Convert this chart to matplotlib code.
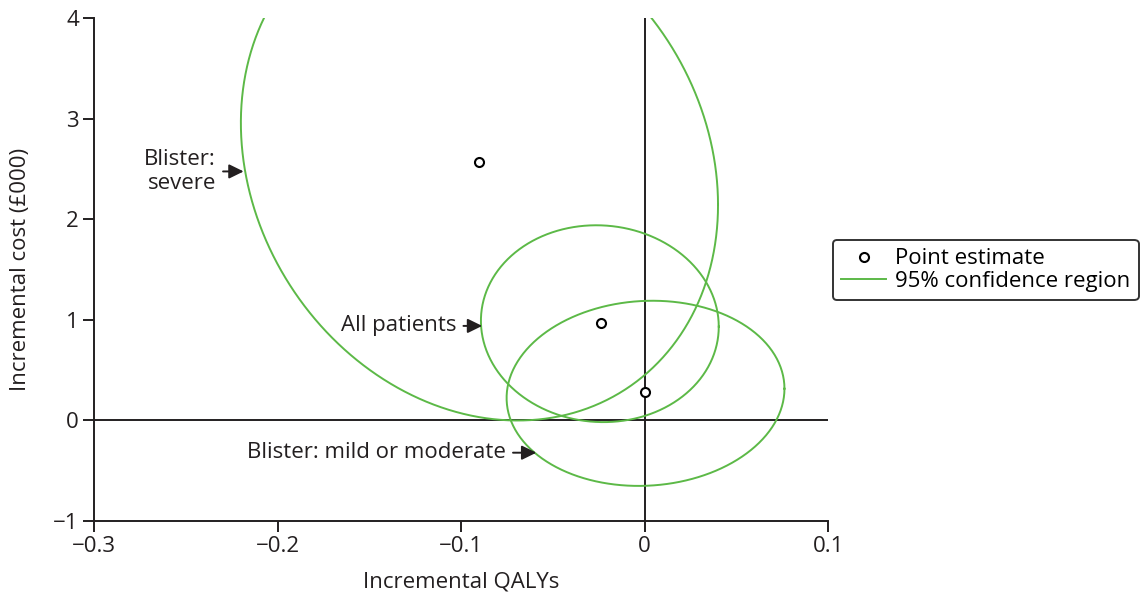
import numpy as np
import matplotlib.pyplot as plt

plt.rcParams['font.family'] = ['Open Sans', 'DejaVu Sans']

# subgroups (point estimates and 95% confidence ellipses)
groups = ['Blister: severe', 'All patients', 'Blister: mild or moderate']
point_qaly = [-0.090, -0.024, 0.0003]
point_cost = [2.57, 0.965, 0.285]
centre_qaly = [-0.090, -0.0244, 0.0005]
centre_cost = [2.55, 0.962, 0.27]
half_qaly = [0.130, 0.0648, 0.0757]
half_cost = [2.55, 0.978, 0.92]
corr = [-0.16, -0.03, 0.05]

# label text, anchor of the text and arrow tip
label_text = ['Blister:\nsevere', 'All patients', 'Blister: mild or moderate']
label_x = [-0.2335, -0.1025, -0.0755]
label_y = [2.475, 0.94, -0.32]
tip_x = [-0.2185, -0.0885, -0.059]

green = '#5cb947'
ink = '#231f20'


def ellipse(cx, cy, a, b, r, n=400):
    t = np.linspace(0, 2 * np.pi, n)
    d = np.arccos(r)
    return cx + a * np.cos(t), cy + b * np.cos(t - d)


fig = plt.figure(figsize=(11.47, 5.99), dpi=100)
ax = fig.add_axes([0.082, 0.130, 0.640, 0.840])

for i in range(len(groups)):
    ex, ey = ellipse(centre_qaly[i], centre_cost[i], half_qaly[i], half_cost[i], corr[i])
    ax.plot(ex, ey, color=green, lw=1.4, label='95% confidence region' if i == 0 else None)

ax.plot(point_qaly, point_cost, 'o', mfc='white', mec='black', mew=1.5, ms=6.5,
        label='Point estimate', zorder=5)

ax.axhline(0, color=ink, lw=1.4, zorder=1)
ax.axvline(0, color=ink, lw=1.4, zorder=1)

for i in range(len(label_text)):
    ax.annotate(label_text[i], xy=(tip_x[i], label_y[i]), xytext=(label_x[i], label_y[i]),
                ha='right', va='center', fontsize=16, color=ink,
                arrowprops=dict(arrowstyle='-|>,head_length=0.55,head_width=0.27',
                                color=ink, lw=1.4, shrinkA=3, shrinkB=0))

ax.set_xlim(-0.3, 0.1)
ax.set_ylim(-1, 4)
ax.set_xticks([-0.3, -0.2, -0.1, 0, 0.1])
ax.set_xticklabels(['\u22120.3', '\u22120.2', '\u22120.1', '0', '0.1'])
ax.set_yticks([-1, 0, 1, 2, 3, 4])
ax.set_yticklabels(['\u22121', '0', '1', '2', '3', '4'])
ax.spines['top'].set_visible(False)
ax.spines['right'].set_visible(False)
for s in ['left', 'bottom']:
    ax.spines[s].set_linewidth(1.4)
    ax.spines[s].set_color(ink)
ax.tick_params(direction='out', length=8, width=1.4, labelsize=16, colors=ink, pad=3)
ax.set_xlabel('Incremental QALYs', fontsize=16, color=ink, labelpad=10)
ax.set_ylabel('Incremental cost (£000)', fontsize=16, color=ink, labelpad=16)

handles, labels = ax.get_legend_handles_labels()
leg = ax.legend(handles[::-1], labels[::-1], loc='center left', bbox_to_anchor=(1.006, 0.499),
                fontsize=16, frameon=True, fancybox=True, edgecolor='black',
                handlelength=2.0, handletextpad=0.4, borderpad=0.4, labelspacing=0.05,
                borderaxespad=0)
leg.get_frame().set_linewidth(1.4)

fig.savefig('out.png', dpi=100)
